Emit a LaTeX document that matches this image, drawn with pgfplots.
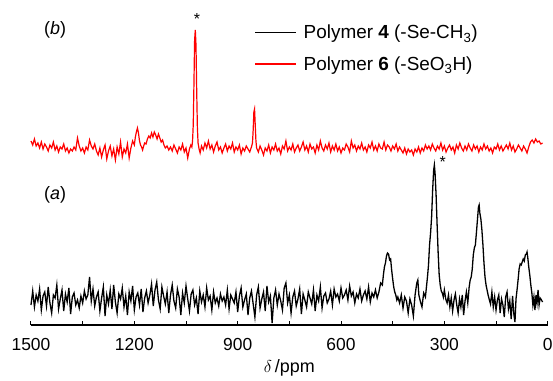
\documentclass[border=0pt]{standalone}
\usepackage{fontspec}
\setmainfont{Liberation Sans}
\usepackage{pgfplots}
\pgfplotsset{compat=1.18}
\begin{document}
\begin{tikzpicture}
\begin{axis}[
  scale only axis, width=516.7bp, height=320bp,
  x dir=reverse, xmin=0, xmax=1500, ymin=0, ymax=320,
  axis x line=bottom, axis y line=none,
  axis line style={-, line width=1.1bp},
  xtick={0,300,600,900,1200,1500},
  minor xtick={150,450,750,1050,1350},
  tick align=inside, major tick length=4.5bp, minor tick length=4bp,
  every tick/.style={black, line width=1bp},
  /pgf/number format/assume math mode=true,
  /pgf/number format/1000 sep={},
  xticklabel style={font=\fontsize{17.5}{20}\selectfont, anchor=base, yshift=-25bp},
  xlabel={$\delta$\,/ppm},
  xlabel style={font=\fontsize{18}{21}\selectfont, at={(axis description cs:0.5,0)}, anchor=base, yshift=-47bp},
  clip=false,
  legend style={at={(axis cs:852,302)}, anchor=north west, draw=none, fill=none,
    font=\fontsize{19}{22}\selectfont, inner sep=0pt, row sep=12bp, cells={anchor=west}},
  legend image code/.code={\draw[#1] (0bp,0bp) -- (41bp,0bp); \path (46bp,0bp);},
]
\addplot[black, line width=1.3bp] coordinates {
(1500,20)(1495,34)(1490,18)(1485,30)(1480,24)(1475,36)(1470,15)(1465,29)(1460,33)(1455,19)
(1450,38)(1445,22)(1440,12)(1435,30)(1430,27)(1425,40)(1420,16)(1415,26)(1410,35)(1405,14)
(1400,31)(1395,23)(1390,37)(1385,11)(1380,28)(1375,32)(1370,20)(1365,25)(1360,17)(1355,29)
(1350,22)(1345,34)(1340,26)(1335,30)(1330,48)(1325,24)(1320,36)(1315,19)(1310,28)(1305,33)
(1300,14)(1295,27)(1290,38)(1285,9)(1280,30)(1275,21)(1270,35)(1265,16)(1260,40)(1255,23)
(1250,12)(1245,31)(1240,26)(1235,37)(1230,18)(1225,29)(1220,10)(1215,33)(1210,24)(1205,39)
(1200,15)(1195,28)(1190,32)(1185,20)(1180,36)(1175,13)(1170,27)(1165,34)(1160,22)(1155,30)
(1150,41)(1145,19)(1140,35)(1135,43)(1130,25)(1125,16)(1120,38)(1115,29)(1110,21)(1105,33)
(1100,12)(1095,30)(1090,40)(1085,24)(1080,17)(1075,36)(1070,28)(1065,10)(1060,32)(1055,22)
(1050,39)(1045,26)(1040,14)(1035,31)(1030,35)(1025,20)(1020,27)(1015,11)(1010,34)(1005,23)
(1000,30)(995,18)(990,37)(985,25)(980,29)(975,15)(970,33)(965,22)(960,27)(955,19)
(950,31)(945,24)(940,28)(935,20)(930,35)(925,16)(920,30)(915,26)(910,22)(905,33)
(900,13)(895,29)(890,37)(885,18)(880,25)(875,31)(870,10)(865,27)(860,34)(855,21)
(850,8)(845,30)(840,38)(835,17)(830,26)(825,33)(820,14)(815,39)(810,23)(805,29)
(800,2)(795,27)(790,35)(785,20)(780,31)(775,24)(770,15)(765,37)(760,42)(755,22)
(750,30)(745,12)(740,28)(735,34)(730,19)(725,26)(720,36)(715,11)(710,31)(705,25)
(700,18)(695,33)(690,27)(685,21)(680,35)(675,14)(670,30)(665,24)(660,38)(655,17)
(650,29)(645,32)(640,22)(635,26)(630,34)(625,20)(620,36)(615,28)(610,31)(605,24)
(600,37)(595,27)(590,30)(585,35)(580,25)(575,39)(570,29)(565,33)(560,22)(555,31)
(550,27)(545,36)(540,24)(535,30)(530,34)(525,26)(520,38)(515,23)(510,32)(505,28)
(500,35)(495,27)(490,33)(485,42)(480,40)(477,50)(474,58)(471,62)(468,69)(465,72)
(462,71)(459,65)(456,66)(453,55)(450,46)(447,38)(444,33)(441,30)(438,25)(435,28)
(430,22)(425,30)(420,17)(415,28)(410,24)(405,12)(400,26)(395,20)(390,9)(385,30)
(380,42)(377,45)(374,30)(370,24)(365,18)(360,32)(355,28)(352,38)(349,48)(346,60)
(343,80)(340,92)(337,108)(334,135)(331,155)(329,160)(327,152)(324,130)(321,100)(318,72)
(315,50)(312,40)(309,34)(306,32)(303,28)(300,35)(296,26)(292,22)(288,30)(284,18)
(280,27)(276,14)(272,25)(268,31)(264,20)(260,12)(256,26)(252,18)(248,30)(244,10)
(240,24)(236,33)(232,22)(228,38)(225,45)(222,48)(219,56)(216,70)(213,77)(210,80)
(207,92)(204,105)(201,118)(199,120)(197,112)(194,106)(191,95)(188,80)(185,62)(182,48)
(179,40)(176,35)(173,30)(170,26)(166,21)(162,33)(158,18)(154,28)(150,15)(146,25)
(142,30)(138,12)(134,26)(130,20)(126,8)(122,28)(118,33)(114,16)(110,24)(106,6)
(102,29)(98,10)(95,3)(92,26)(89,35)(86,45)(83,56)(80,61)(77,60)(74,63)
(71,66)(68,64)(65,70)(62,71)(60,73)(58,68)(55,58)(52,50)(49,40)(46,32)
(43,20)(40,28)(37,15)(34,30)(31,22)(28,35)(25,20)(22,27)(18,25)(15,23)
};
\addlegendentry{Polymer \textbf{4} (-Se-CH\textsubscript{3})}
\addplot[red, line width=1.2bp] coordinates {
(1500,184)(1495,180)(1490,186)(1485,179)(1480,182)(1475,177)(1470,183)(1465,176)(1460,181)(1455,178)
(1450,174)(1445,180)(1440,177)(1435,183)(1430,175)(1425,179)(1420,173)(1415,178)(1410,176)(1405,181)
(1400,174)(1395,177)(1390,172)(1385,176)(1380,174)(1375,178)(1370,175)(1365,187)(1360,179)(1355,174)
(1350,177)(1345,172)(1340,178)(1335,175)(1330,185)(1325,179)(1320,176)(1315,181)(1310,174)(1305,170)
(1300,177)(1295,168)(1290,175)(1285,180)(1280,166)(1275,174)(1270,179)(1265,169)(1260,176)(1255,165)
(1250,178)(1245,171)(1240,183)(1235,168)(1230,176)(1225,172)(1220,181)(1215,167)(1210,177)(1205,184)
(1200,180)(1197,188)(1194,193)(1191,197)(1188,192)(1185,184)(1182,180)(1179,178)(1176,175)(1173,179)
(1170,182)(1166,181)(1162,186)(1158,189)(1154,187)(1150,192)(1146,188)(1142,193)(1138,190)(1134,186)
(1130,191)(1126,187)(1122,183)(1118,185)(1114,180)(1110,177)(1105,179)(1100,175)(1095,178)(1090,174)
(1085,180)(1080,176)(1075,172)(1070,178)(1065,175)(1060,181)(1055,173)(1050,177)(1045,167)(1040,176)
(1036,180)(1033,178)(1031,184)(1029,200)(1027,240)(1025,285)(1023,295)(1021,280)(1019,235)(1017,198)
(1015,182)(1012,176)(1009,172)(1005,179)(1000,175)(995,182)(990,177)(985,184)(980,176)(975,180)
(970,173)(965,179)(960,183)(955,175)(950,178)(945,172)(940,177)(935,181)(930,174)(925,179)
(920,176)(915,182)(910,173)(905,178)(900,175)(895,180)(890,171)(885,177)(880,174)(875,179)
(870,176)(865,173)(860,178)(857,182)(855,195)(853,213)(851,216)(849,200)(847,184)(845,177)
(840,173)(835,179)(830,175)(825,170)(820,177)(815,174)(810,180)(805,172)(800,178)(795,175)
(790,181)(785,174)(780,177)(775,171)(770,179)(765,176)(760,184)(755,174)(750,178)(745,175)
(740,181)(735,173)(730,177)(725,180)(720,174)(715,178)(710,183)(705,175)(700,179)(695,173)
(690,181)(685,176)(680,178)(675,172)(670,180)(665,175)(660,184)(655,177)(650,174)(645,180)
(640,176)(635,182)(630,173)(625,179)(620,175)(615,181)(610,174)(605,178)(600,172)(595,177)
(590,175)(585,181)(580,178)(575,173)(570,184)(565,177)(560,180)(555,174)(550,179)(545,176)
(540,182)(535,175)(530,178)(525,173)(520,180)(515,177)(510,183)(505,175)(500,179)(495,174)
(490,181)(485,177)(480,176)(475,183)(470,175)(465,180)(460,178)(455,174)(450,179)(445,176)
(440,181)(435,174)(430,178)(425,175)(420,172)(415,177)(410,171)(405,176)(400,173)(395,175)
(390,170)(385,176)(380,173)(375,178)(370,172)(365,177)(360,174)(355,180)(350,176)(345,179)
(340,175)(335,181)(330,177)(325,174)(320,179)(315,176)(310,182)(305,175)(300,179)(295,173)
(290,177)(285,180)(280,175)(275,178)(270,172)(265,180)(260,176)(255,182)(250,177)(245,174)
(240,179)(235,175)(230,181)(225,177)(220,174)(215,180)(210,176)(205,179)(200,173)(195,178)
(190,175)(185,181)(180,176)(175,179)(170,174)(165,177)(160,172)(155,178)(150,176)(145,181)
(140,175)(135,179)(130,174)(125,177)(120,180)(115,176)(110,182)(105,175)(100,179)(95,173)
(90,176)(85,180)(80,177)(75,174)(70,179)(65,176)(60,172)(55,178)(50,183)(45,185)
(40,182)(35,186)(30,183)(25,184)(20,181)(15,182)
};
\addlegendentry{Polymer \textbf{6} (-SeO\textsubscript{3}H)}
\node[anchor=center, font=\fontsize{18}{21}\selectfont] at (axis cs:1430,295) {(\textit{b})};
\node[anchor=center, font=\fontsize{18}{21}\selectfont] at (axis cs:1430,130) {(\textit{a})};
\node[anchor=base, font=\fontsize{16}{18}\selectfont] at (axis cs:1018,300.6) {*};
\node[anchor=base, font=\fontsize{16}{18}\selectfont] at (axis cs:305,157.6) {*};
\end{axis}
\pgfresetboundingbox
\path ([shift={(-31bp,-56bp)}]current axis.south west) rectangle ([shift={(5.3bp,5bp)}]current axis.north east);
\end{tikzpicture}
\end{document}
